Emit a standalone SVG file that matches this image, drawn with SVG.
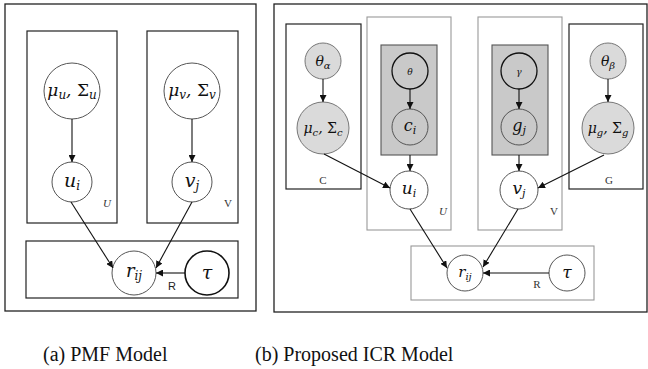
<svg xmlns="http://www.w3.org/2000/svg" width="648" height="369" viewBox="0 0 648 369">
  <defs>
    <marker id="ah" viewBox="0 0 10 10" refX="10" refY="5" markerWidth="7" markerHeight="7" markerUnits="userSpaceOnUse" orient="auto">
      <path d="M0,0 L10,5 L0,10 z" fill="#111"/>
    </marker>
    <style>
      .frame { fill: #fff; stroke: #222; stroke-width: 1.3; }
      .plate { fill: none; stroke: #222; stroke-width: 1.2; }
      .plate-l { fill: none; stroke: #999; stroke-width: 1.1; }
      .shade { fill: #c9c9c9; stroke: #555; stroke-width: 1.1; }
      .node { fill: #fff; stroke: #555; stroke-width: 1; }
      .node-d { fill: #fff; stroke: #111; stroke-width: 1.6; }
      .hyper { fill: #dadada; stroke: #777; stroke-width: 1; }
      .obs { fill: #c9c9c9; stroke: #555; stroke-width: 1; }
      .obs-d { fill: #c9c9c9; stroke: #111; stroke-width: 1.3; }
      .math { font-family: "DejaVu Serif", "Liberation Serif", serif; font-style: italic; fill: #111; text-anchor: middle; }
      .up { font-style: normal; }
      .lbl { font-family: "Liberation Serif", serif; font-size: 11px; fill: #333; text-anchor: middle; }
      .lbl-s { font-family: "Liberation Sans", "DejaVu Sans", sans-serif; font-size: 11px; fill: #222; text-anchor: middle; }
      .cap { font-family: "Liberation Serif", "Times New Roman", serif; font-size: 20px; fill: #111; }
      .edge { fill: none; stroke: #111; stroke-width: 1.1; marker-end: url(#ah); }
    </style>
  </defs>

  <!-- (a) PMF model -->
  <rect class="frame" x="5" y="4" width="251" height="307"/>
  <g id="plate-a-U"><rect class="plate" x="27" y="31" width="90" height="192"/>
    <text class="lbl" x="107" y="207" font-style="italic">U</text></g>
  <g id="plate-a-V"><rect class="plate" x="147" y="31" width="91" height="192"/>
    <text class="lbl" x="228" y="207">V</text></g>
  <g id="plate-a-R"><rect class="plate" x="26" y="241" width="212" height="57"/>
    <text class="lbl-s" x="172" y="290">R</text></g>

  <g id="a-mu-u"><circle class="node" cx="72" cy="91" r="28"/>
    <text class="math" x="72" y="96" font-size="17">μ<tspan font-size="12" dy="3">u</tspan><tspan dy="-3">, </tspan><tspan class="up">Σ</tspan><tspan font-size="12" dy="3">u</tspan></text></g>
  <g id="a-mu-v"><circle class="node" cx="192" cy="91" r="28"/>
    <text class="math" x="192" y="96" font-size="17">μ<tspan font-size="12" dy="3">v</tspan><tspan dy="-3">, </tspan><tspan class="up">Σ</tspan><tspan font-size="12" dy="3">v</tspan></text></g>
  <g id="a-u"><circle class="node" cx="72" cy="182" r="20"/>
    <text class="math" x="72" y="187" font-size="19">u<tspan font-size="12" dy="3">i</tspan></text></g>
  <g id="a-v"><circle class="node" cx="192" cy="182" r="20"/>
    <text class="math" x="192" y="187" font-size="19">v<tspan font-size="12" dy="3">j</tspan></text></g>
  <g id="a-r"><circle class="node" cx="134" cy="273" r="22"/>
    <text class="math" x="134" y="277" font-size="18">r<tspan font-size="12" dy="3">ij</tspan></text></g>
  <g id="a-tau"><circle class="node-d" cx="207" cy="273" r="22"/>
    <text class="math" x="207" y="279" font-size="19">τ</text></g>

  <!-- (b) proposed ICR model -->
  <rect class="frame" x="274" y="4" width="373" height="308"/>
  <g id="plate-b-C"><rect class="plate" x="286" y="24" width="75" height="165"/>
    <text class="lbl" x="323" y="184">C</text></g>
  <g id="plate-b-U"><rect class="plate-l" x="367" y="17" width="84" height="213"/>
    <rect class="shade" x="381" y="45" width="56" height="110"/>
    <text class="lbl" x="443" y="215" font-style="italic" font-size="10">U</text></g>
  <g id="plate-b-V"><rect class="plate-l" x="478" y="17" width="84" height="213"/>
    <rect class="shade" x="492" y="45" width="56" height="110"/>
    <text class="lbl" x="554" y="215">V</text></g>
  <g id="plate-b-G"><rect class="plate" x="569" y="24" width="74" height="165"/>
    <text class="lbl" x="609" y="184">G</text></g>
  <g id="plate-b-R"><rect class="plate-l" x="411" y="246" width="183" height="54"/>
    <text class="lbl" x="537" y="288">R</text></g>

  <g id="b-theta-alpha"><circle class="hyper" cx="323" cy="61" r="18"/>
    <text class="math" x="323" y="66" font-size="14">θ<tspan font-size="10" dy="3">α</tspan></text></g>
  <g id="b-mu-c"><circle class="hyper" cx="323" cy="128" r="26"/>
    <text class="math" x="323" y="133" font-size="14">μ<tspan font-size="10" dy="3">c</tspan><tspan dy="-3">, </tspan><tspan class="up">Σ</tspan><tspan font-size="10" dy="3">c</tspan></text></g>
  <g id="b-theta"><circle class="obs-d" cx="410" cy="71" r="18"/>
    <text class="math" x="410" y="75" font-size="9">θ</text></g>
  <g id="b-c"><circle class="obs" cx="410" cy="127" r="18"/>
    <text class="math" x="410" y="131" font-size="16">c<tspan font-size="11" dy="3">i</tspan></text></g>
  <g id="b-u"><circle class="node" cx="409" cy="190" r="19"/>
    <text class="math" x="409" y="194" font-size="17">u<tspan font-size="11" dy="3">i</tspan></text></g>
  <g id="b-gamma"><circle class="obs-d" cx="519" cy="71" r="18"/>
    <text class="math" x="519" y="75" font-size="9">γ</text></g>
  <g id="b-g"><circle class="obs" cx="519" cy="127" r="18"/>
    <text class="math" x="519" y="131" font-size="16">g<tspan font-size="11" dy="3">j</tspan></text></g>
  <g id="b-v"><circle class="node" cx="519" cy="190" r="19"/>
    <text class="math" x="519" y="194" font-size="17">v<tspan font-size="11" dy="3">j</tspan></text></g>
  <g id="b-theta-beta"><circle class="hyper" cx="608" cy="61" r="18"/>
    <text class="math" x="608" y="66" font-size="14">θ<tspan font-size="10" dy="3">β</tspan></text></g>
  <g id="b-mu-g"><circle class="hyper" cx="608" cy="128" r="26"/>
    <text class="math" x="608" y="133" font-size="14">μ<tspan font-size="10" dy="3">g</tspan><tspan dy="-3">, </tspan><tspan class="up">Σ</tspan><tspan font-size="10" dy="3">g</tspan></text></g>
  <g id="b-r"><circle class="node" cx="465" cy="273" r="18"/>
    <text class="math" x="465" y="277" font-size="15">r<tspan font-size="10" dy="3">ij</tspan></text></g>
  <g id="b-tau"><circle class="node" cx="567" cy="273" r="18"/>
    <text class="math" x="567" y="278" font-size="17">τ</text></g>

  <g id="connectors">
    <line class="edge" x1="72" y1="119" x2="72" y2="162"/>
    <line class="edge" x1="192" y1="119" x2="192" y2="162"/>
    <line class="edge" x1="71" y1="202" x2="113" y2="268"/>
    <line class="edge" x1="192" y1="202" x2="156" y2="268"/>
    <line class="edge" x1="185" y1="273" x2="156" y2="273"/>

    <line class="edge" x1="323" y1="79" x2="323" y2="102"/>
    <line class="edge" x1="410" y1="89" x2="410" y2="109"/>
    <line class="edge" x1="410" y1="155" x2="410" y2="171"/>
    <line class="edge" x1="519" y1="89" x2="519" y2="109"/>
    <line class="edge" x1="519" y1="155" x2="519" y2="171"/>
    <line class="edge" x1="608" y1="79" x2="608" y2="102"/>
    <line class="edge" x1="324" y1="154" x2="390" y2="188"/>
    <line class="edge" x1="604" y1="155" x2="538" y2="188"/>
    <line class="edge" x1="410" y1="209" x2="447" y2="268"/>
    <line class="edge" x1="518" y1="209" x2="483" y2="267"/>
    <line class="edge" x1="549" y1="273" x2="483" y2="273"/>
  </g>

  <text class="cap" x="43" y="361">(a) PMF Model</text>
  <text class="cap" x="255" y="361">(b) Proposed ICR Model</text>
</svg>
